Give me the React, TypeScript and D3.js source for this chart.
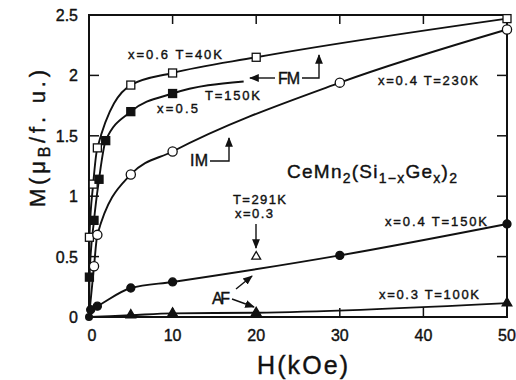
import * as d3 from "d3";

// M(H) magnetisation curves, CeMn2(Si1-xGe)2
// each point: [H (kOe), M (muB/f.u.)]
const sq06T40: [number, number][] = [
  [0, 0], [0.05, 0.66], [0.5, 1.1], [1, 1.4], [5, 1.92], [10, 2.02], [20, 2.15], [50, 2.47],
];
const sq05T150: [number, number][] = [
  [0, 0], [0.05, 0.33], [0.6, 0.8], [1.2, 1.14], [2, 1.46], [5, 1.7], [10, 1.85],
];
// x=0.5 line keeps going past the last marker
const sq05Tail: [number, number][] = [[18.5, 1.95]];
const ci04T230: [number, number][] = [
  [0, 0], [0.6, 0.42], [1, 0.68], [5, 1.18], [10, 1.37], [30, 1.94], [50, 2.38],
];
const dot04T150: [number, number][] = [
  [0, 0], [0.2, 0.06], [1, 0.09], [5, 0.24], [10, 0.29], [30, 0.51], [50, 0.77],
];
const tri03T100: [number, number][] = [
  [0, 0], [5, 0.015], [10, 0.03], [20, 0.035], [50, 0.115],
];
const tri03T291: [number, number][] = [[20, 0.5]];

const xTicks = [0, 10, 20, 30, 40, 50];
const yTicks = [0, 0.5, 1, 1.5, 2, 2.5];
const yTickLabels = ["0", "0.5", "1", "1.5", "2", "2.5"];

const W = 516;
const H = 380;
const left = 89, right = 507, top = 15, bottom = 317;
const font = "'Liberation Sans', Arial, Helvetica, sans-serif";
const ink = "#111";

export default function App() {
  const x = d3.scaleLinear().domain([0, 50]).range([left, right]);
  const y = d3.scaleLinear().domain([0, 2.5]).range([bottom, top]);

  const line = d3.line<[number, number]>()
    .x(d => x(d[0]))
    .y(d => y(d[1]))
    .curve(d3.curveMonotoneX);

  const square = (d: [number, number], filled: boolean, k: string) => (
    <rect key={k} x={x(d[0]) - 4} y={y(d[1]) - 4} width={8} height={8}
      fill={filled ? ink : "#fff"} stroke={ink} strokeWidth={1.3} />
  );
  const circle = (d: [number, number], filled: boolean, k: string) => (
    <circle key={k} cx={x(d[0])} cy={y(d[1])} r={filled ? 4 : 4.6}
      fill={filled ? ink : "#fff"} stroke={ink} strokeWidth={1.3} />
  );
  const triangle = (d: [number, number], filled: boolean, k: string) => {
    const s = d3.symbol(d3.symbolTriangle, filled ? 40 : 34)();
    return (
      <path key={k} d={s as string} transform={`translate(${x(d[0])},${y(d[1])})`}
        fill={filled ? ink : "#fff"} stroke={ink} strokeWidth={1.3} />
    );
  };

  // scanned print looks heavier, so give the glyphs a thin outline
  const txt = { fontFamily: font, fill: ink, stroke: ink, strokeWidth: 0.4 } as const;

  return (
    <svg width={W} height={H} style={{ position: "absolute", left: 0, top: 0, background: "#fff" }}>
      <defs>
        <marker id="ah" viewBox="0 0 10 10" refX="9" refY="5" markerWidth="7" markerHeight="7" orient="auto-start-reverse">
          <path d="M0,1 L10,5 L0,9 z" fill={ink} />
        </marker>
      </defs>

      {/* frame */}
      <rect x={left} y={top} width={right - left} height={bottom - top} fill="none" stroke={ink} strokeWidth={2} />

      {/* ticks, inward on all four sides */}
      {xTicks.slice(1, -1).map(t => (
        <g key={"xt" + t} stroke={ink} strokeWidth={1.5}>
          <line x1={x(t)} x2={x(t)} y1={bottom} y2={bottom - 9} />
          <line x1={x(t)} x2={x(t)} y1={top} y2={top + 9} />
        </g>
      ))}
      {yTicks.slice(1, -1).map(t => (
        <g key={"yt" + t} stroke={ink} strokeWidth={1.5}>
          <line x1={left} x2={left + 10} y1={y(t)} y2={y(t)} />
          <line x1={right} x2={right - 10} y1={y(t)} y2={y(t)} />
        </g>
      ))}

      {/* tick labels */}
      {xTicks.map(t => (
        <text key={"xl" + t} x={x(t) + (t === 0 ? 3 : 0)} y={341} textAnchor="middle" fontSize={16} {...txt}>{t}</text>
      ))}
      {yTicks.map((t, i) => (
        <text key={"yl" + t} x={78} y={y(t) + 6} textAnchor="end" fontSize={16} {...txt}>{yTickLabels[i]}</text>
      ))}

      {/* axis titles */}
      <text x={257} y={374} fontSize={25} textLength={91} {...txt}>H(kOe)</text>
      <text transform="translate(45,207) rotate(-90)" fontSize={22} textLength={137} {...txt}>
        M(μ<tspan fontSize={16} dy={5}>B</tspan><tspan dy={-5}>/f. u.)</tspan>
      </text>

      {/* curves */}
      <g fill="none" stroke={ink} strokeWidth={1.9}>
        <path d={line(sq06T40) ?? ""} />
        <path d={line([...sq05T150, ...sq05Tail]) ?? ""} />
        <path d={line(ci04T230) ?? ""} />
        <path d={line(dot04T150) ?? ""} />
        <path d={line(tri03T100) ?? ""} />
      </g>

      {/* markers */}
      {sq06T40.slice(1).map((d, i) => square(d, false, "a" + i))}
      {sq05T150.slice(1).map((d, i) => square(d, true, "b" + i))}
      {ci04T230.slice(1).map((d, i) => circle(d, false, "c" + i))}
      {dot04T150.slice(1).map((d, i) => circle(d, true, "d" + i))}
      {tri03T100.slice(1).map((d, i) => triangle(d, true, "e" + i))}
      {tri03T291.map((d, i) => triangle(d, false, "f" + i))}
      <circle cx={x(0)} cy={y(0)} r={4} fill={ink} />

      {/* curve labels */}
      <g fontSize={13} {...txt}>
        <text x={128} y={59} textLength={94}>x=0.6  T=40K</text>
        <text x={157} y={113} textLength={41}>x=0.5</text>
        <text x={205} y={100} textLength={55}>T=150K</text>
        <text x={378} y={85} textLength={100}>x=0.4  T=230K</text>
        <text x={385} y={226} textLength={102}>x=0.4  T=150K</text>
        <text x={379} y={299} textLength={100}>x=0.3  T=100K</text>
        <text x={233} y={204} textLength={53}>T=291K</text>
        <text x={235} y={218} textLength={38}>x=0.3</text>
      </g>
      <g fontSize={16} {...txt}>
        <text x={278} y={84} textLength={22}>FM</text>
        <text x={190} y={166} textLength={18}>IM</text>
        <text x={212} y={304} textLength={18}>AF</text>
      </g>
      <text x={287} y={178} fontSize={19} textLength={170} {...txt}>
        CeMn<tspan fontSize={14} dy={5}>2</tspan><tspan dy={-5}>(Si</tspan><tspan fontSize={14} dy={5}>1−x</tspan><tspan dy={-5}>Ge</tspan><tspan fontSize={14} dy={5}>x</tspan><tspan dy={-5}>)</tspan><tspan fontSize={14} dy={5}>2</tspan>
      </text>

      {/* annotation arrows */}
      <g stroke={ink} strokeWidth={1.4} fill="none">
        <line x1={275} y1={78} x2={250} y2={78} markerEnd="url(#ah)" />
        <polyline points="302,78 319,78 319,55" markerEnd="url(#ah)" />
        <polyline points="210,161 229,161 229,138" markerEnd="url(#ah)" />
        <line x1={256} y1={224} x2={256} y2={248} markerEnd="url(#ah)" />
        <line x1={236} y1={289} x2={252} y2={276} markerEnd="url(#ah)" />
        <line x1={232} y1={299} x2={254} y2={307} markerEnd="url(#ah)" />
      </g>
    </svg>
  );
}
